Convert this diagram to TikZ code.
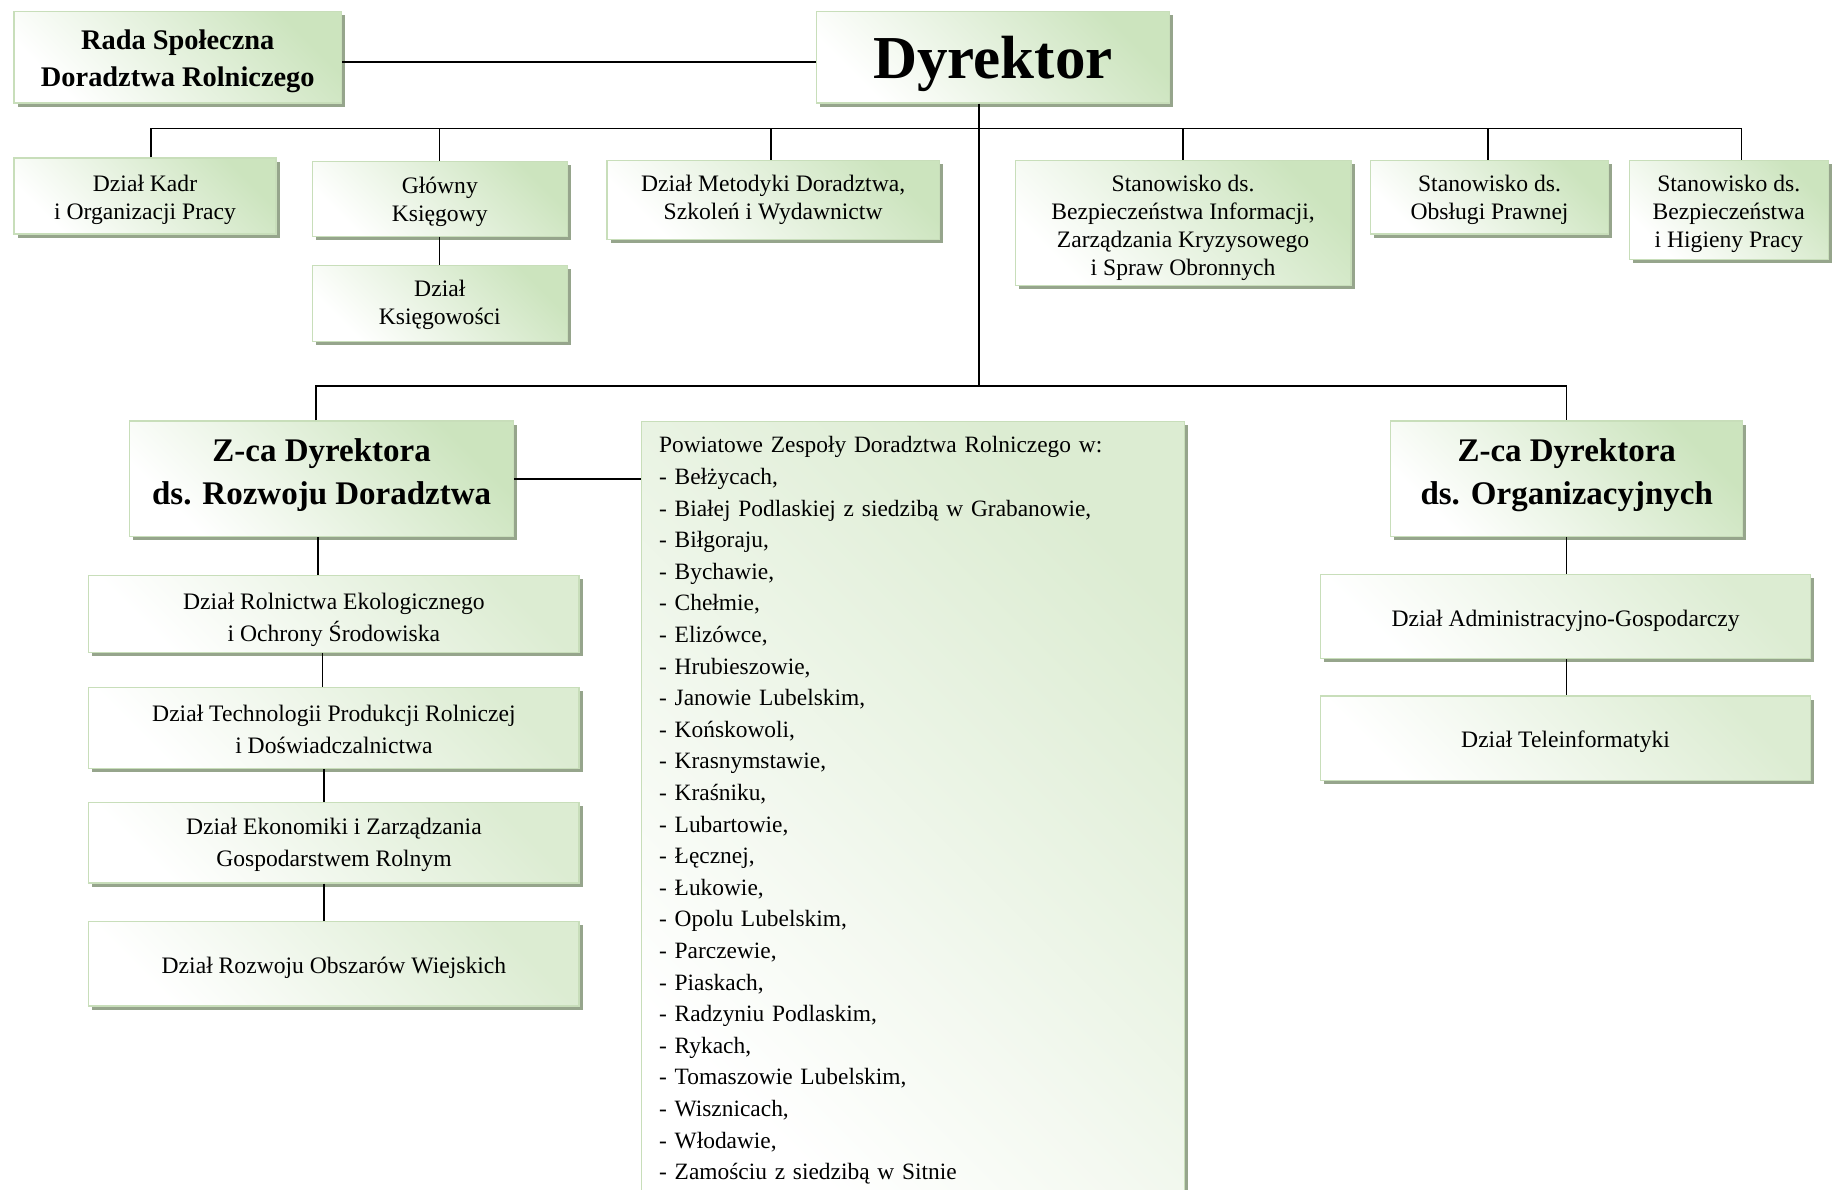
\documentclass[tikz,border=0pt]{standalone}
\usepackage{fontspec}
\setmainfont{Liberation Serif}
\usetikzlibrary{shadows}
\definecolor{boxgreen}{RGB}{204,228,190}
\definecolor{palegreen}{RGB}{220,236,210}
\definecolor{boxborder}{RGB}{200,222,186}
\definecolor{boxshadow}{RGB}{150,165,140}
\newcommand{\pxu}{0.5848pt}
\newcommand{\strutup}[1]{\rule{0pt}{#1}}
\begin{document}
\begin{tikzpicture}[x=0.5848pt, y=-0.5848pt,
    base/.style={draw=boxborder, line width=0.6pt, top color=#1, bottom color=white, shading angle=-45,
      general shadow={fill=boxshadow, shadow xshift=1.8pt, shadow yshift=-1.8pt},
      inner sep=0pt, align=center},
    base/.default=boxgreen,
    box/.style={base, font=\fontsize{11.8}{14}\selectfont},
    unitbox/.style={base=palegreen, font=\fontsize{11.8}{15.8}\selectfont},
    head/.style={base, font=\bfseries\fontsize{14.2}{18.7}\selectfont},
    chief/.style={base, font=\bfseries\fontsize{30.5}{36}\selectfont},
    deputy/.style={base, font=\bfseries\fontsize{16.5}{21.6}\selectfont, execute at end node=\rule[-7.1pt]{0pt}{7.1pt}},
    link/.style={line width=0.7pt}]
    \useasboundingbox (0,0) rectangle (1568,1016.6);
    \clip (0,0) rectangle (1568,1016.6);

    % 上段
    \node[head, minimum width=280*\pxu, minimum height=78*\pxu] (rada) at (152,49) {\strutup{13.9pt}Rada Społeczna\\Doradztwa Rolniczego};
    \node[chief, minimum width=302*\pxu, minimum height=78*\pxu] (dyr) at (849,49) {\strutup{27.9pt}Dyrektor};

    % 第二段
    \node[box, minimum width=224*\pxu, minimum height=65*\pxu] (kadr) at (124,167.5) {\strutup{11.7pt}Dział Kadr\\i Organizacji Pracy};
    \node[box, minimum width=218*\pxu, minimum height=64*\pxu] (glowny) at (376,170) {\strutup{11.7pt}Główny\\Księgowy};
    \node[box, minimum width=218*\pxu, minimum height=65*\pxu] (ksieg) at (376,259.5) {\strutup{9.4pt}Dział\\Księgowości};
    \node[box, minimum width=284*\pxu, minimum height=68*\pxu] (metod) at (661,171) {Dział Metodyki Doradztwa,\\Szkoleń i Wydawnictw};
    \node[box, minimum width=287*\pxu, minimum height=107*\pxu] (bezp) at (1011.5,190.5) {\strutup{13.5pt}Stanowisko ds.\\Bezpieczeństwa Informacji,\\Zarządzania Kryzysowego\\i Spraw Obronnych};
    \node[box, minimum width=203*\pxu, minimum height=63*\pxu] (prawna) at (1273.5,168.5) {\strutup{10.5pt}Stanowisko ds.\\Obsługi Prawnej};
    \node[box, minimum width=170*\pxu, minimum height=85*\pxu] (bhp) at (1478,179.5) {\strutup{11.7pt}Stanowisko ds.\\Bezpieczeństwa\\i Higieny Pracy};

    % 副所長
    \node[deputy, minimum width=328*\pxu, minimum height=99*\pxu] (zcr) at (275,409.5) {Z-ca Dyrektora\\ds. Rozwoju Doradztwa};
    \node[deputy, minimum width=301*\pxu, minimum height=99*\pxu] (zco) at (1339.5,409.5) {Z-ca Dyrektora\\ds. Organizacyjnych};
    \node[base=palegreen, anchor=north west, align=left, text width=434*\pxu, inner xsep=15*\pxu, inner ysep=7.5pt,
      font=\fontsize{11.7}{15.8}\selectfont] (pzdr) at (548,360) {Powiatowe Zespoły Doradztwa Rolniczego w:\\
      - Bełżycach,\\
      - Białej Podlaskiej z siedzibą w Grabanowie,\\
      - Biłgoraju,\\
      - Bychawie,\\
      - Chełmie,\\
      - Elizówce,\\
      - Hrubieszowie,\\
      - Janowie Lubelskim,\\
      - Końskowoli,\\
      - Krasnymstawie,\\
      - Kraśniku,\\
      - Lubartowie,\\
      - Łęcznej,\\
      - Łukowie,\\
      - Opolu Lubelskim,\\
      - Parczewie,\\
      - Piaskach,\\
      - Radzyniu Podlaskim,\\
      - Rykach,\\
      - Tomaszowie Lubelskim,\\
      - Wisznicach,\\
      - Włodawie,\\
      - Zamościu z siedzibą w Sitnie};

    % 下段の部署
    \node[unitbox, minimum width=419*\pxu, minimum height=66*\pxu] (ekol) at (285.5,525) {\strutup{14pt}Dział Rolnictwa Ekologicznego\\i Ochrony Środowiska};
    \node[unitbox, minimum width=419*\pxu, minimum height=69*\pxu] (techn) at (285.5,622.5) {\strutup{9.4pt}Dział Technologii Produkcji Rolniczej\\i Doświadczalnictwa};
    \node[unitbox, minimum width=419*\pxu, minimum height=69*\pxu] (ekon) at (285.5,720.5) {\strutup{10.5pt}Dział Ekonomiki i Zarządzania\\Gospodarstwem Rolnym};
    \node[unitbox, minimum width=419*\pxu, minimum height=72*\pxu] (obsz) at (285.5,824) {\strutup{12.2pt}Dział Rozwoju Obszarów Wiejskich};
    \node[unitbox, minimum width=419*\pxu, minimum height=72*\pxu] (admin) at (1338.5,527) {\strutup{12.2pt}Dział Administracyjno-Gospodarczy};
    \node[unitbox, minimum width=419*\pxu, minimum height=72*\pxu] (tele) at (1338.5,631) {\strutup{12.2pt}Dział Teleinformatyki};

    % 接続線
    \coordinate (bus1) at (0,110);
    \coordinate (bus2) at (0,330);
    \draw[link] ([yshift=-4*\pxu]rada.east) -- ([yshift=-4*\pxu]dyr.west);
    \draw[link] ([xshift=-12*\pxu]dyr.south) -- ([xshift=-12*\pxu]dyr.south |- bus2);
    \draw[link] ([xshift=5*\pxu]kadr.north) |- ([xshift=11*\pxu]bhp.north |- bus1) -- ([xshift=11*\pxu]bhp.north);
    \draw[link] (glowny.north) -- (glowny.north |- bus1);
    \draw[link] ([xshift=-2*\pxu]metod.north) -- ([xshift=-2*\pxu]metod.north |- bus1);
    \draw[link] (bezp.north) -- (bezp.north |- bus1);
    \draw[link] ([xshift=-1.5*\pxu]prawna.north) -- ([xshift=-1.5*\pxu]prawna.north |- bus1);
    \draw[link] (glowny.south) -- (ksieg.north);
    \draw[link] ([xshift=-5*\pxu]zcr.north) |- (zco.north |- bus2) -- (zco.north);
    \draw[link] (zcr.east) -- (zcr.east -| pzdr.west);
    \draw[link] ([xshift=-3*\pxu]zcr.south) -- ([xshift=-3*\pxu]zcr.south |- ekol.north);
    \draw[link] ([xshift=-10*\pxu]ekol.south) -- ([xshift=-10*\pxu]techn.north);
    \draw[link] ([xshift=-8.5*\pxu]techn.south) -- ([xshift=-8.5*\pxu]ekon.north);
    \draw[link] ([xshift=-8.5*\pxu]ekon.south) -- ([xshift=-8.5*\pxu]obsz.north);
    \draw[link] (zco.south) -- (zco.south |- admin.north);
    \draw[link] (admin.south -| zco.south) -- (tele.north -| zco.south);
\end{tikzpicture}
\end{document}
